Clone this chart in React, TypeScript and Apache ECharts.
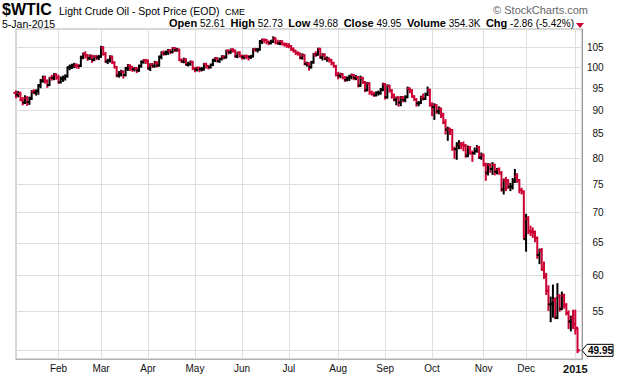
import React, { useEffect, useRef } from 'react';
import * as echarts from 'echarts';

const FONT = '"Liberation Sans", Arial, Helvetica, sans-serif';
const RED = '#cc0033';
const BLACK = '#000000';

// Trading calendar: first and last session, and exchange holidays
const START = '2014-01-06';
const END = '2015-01-05';
const HOLIDAYS = ['2014-01-20', '2014-02-17', '2014-04-18', '2014-05-26', '2014-07-04', '2014-09-01', '2014-11-27', '2014-12-25', '2015-01-01'];
const MONTHS = ['Jan', 'Feb', 'Mar', 'Apr', 'May', 'Jun', 'Jul', 'Aug', 'Sep', 'Oct', 'Nov', 'Dec'];

const PREV_CLOSE = 93.96; // close before the first bar

// Daily bars [open, high, low, close]
const jan14 = [
  [93.9, 94.3, 92.8, 93.43], [93.5, 94.2, 93.0, 93.67], [93.7, 94.0, 92.1, 92.33], [92.3, 92.8, 91.2, 91.66],
  [91.7, 93.2, 91.5, 92.72], [92.7, 93.0, 91.1, 91.80], [91.8, 92.9, 91.3, 92.59], [92.6, 94.4, 92.4, 94.17],
  [94.2, 94.6, 93.7, 93.96], [94.0, 94.5, 93.4, 94.37], [94.4, 95.8, 93.6, 95.57], [95.6, 97.0, 95.1, 96.73],
  [96.7, 97.8, 96.4, 97.32], [97.3, 97.8, 96.2, 96.64], [96.6, 96.9, 95.2, 95.72], [95.7, 97.5, 95.6, 97.41],
  [97.4, 98.0, 96.9, 97.36], [97.4, 98.4, 97.0, 98.23], [98.2, 98.3, 97.1, 97.49],
];
const feb14 = [
  [97.5, 98.0, 96.1, 96.43], [96.4, 97.6, 96.2, 97.19], [97.2, 97.8, 96.6, 97.38], [97.4, 98.1, 96.9, 97.84],
  [97.8, 100.0, 97.6, 99.88], [99.9, 100.5, 99.4, 100.06], [100.1, 100.7, 99.7, 100.37], [100.4, 100.9, 99.9, 100.40],
  [100.4, 100.8, 99.8, 100.35], [100.3, 100.6, 99.7, 100.30], [100.3, 102.7, 100.2, 102.43], [102.4, 103.5, 102.1, 103.31],
  [103.3, 103.8, 102.3, 102.92], [102.9, 103.1, 101.7, 102.20], [102.2, 103.0, 101.9, 102.82], [102.8, 102.9, 101.2, 101.83],
  [101.8, 102.8, 101.6, 102.59], [102.6, 102.9, 101.9, 102.40], [102.4, 102.9, 101.9, 102.59],
];
const mar14 = [
  [102.6, 105.2, 102.5, 104.92], [104.9, 105.1, 103.0, 103.33], [103.3, 103.6, 101.2, 101.45], [101.4, 101.9, 100.9, 101.56],
  [101.6, 102.8, 101.3, 102.58], [102.6, 102.7, 100.9, 101.12], [101.1, 101.3, 99.8, 100.03], [100.0, 100.1, 97.7, 97.99],
  [98.0, 98.9, 97.6, 98.20], [98.2, 99.2, 97.9, 98.89], [98.9, 99.0, 97.4, 98.08], [98.1, 99.9, 97.9, 99.70],
  [99.7, 100.6, 99.2, 100.37], [100.4, 100.5, 99.2, 99.90], [99.9, 100.2, 99.0, 99.46], [99.5, 99.9, 99.1, 99.60],
  [99.6, 99.9, 98.7, 99.19], [99.2, 100.5, 99.0, 100.26], [100.3, 101.5, 100.0, 101.28], [101.3, 101.8, 101.0, 101.67],
  [101.7, 101.9, 100.9, 101.58],
];
const apr14 = [
  [101.6, 101.7, 99.5, 99.74], [99.7, 100.8, 99.2, 100.62], [100.6, 100.9, 99.9, 100.29], [100.3, 101.4, 100.0, 101.14],
  [101.1, 101.3, 100.1, 100.44], [100.4, 102.7, 100.3, 102.56], [102.6, 103.8, 102.1, 103.60], [103.6, 104.0, 103.0, 103.40],
  [103.4, 104.0, 103.1, 103.74], [103.7, 104.4, 103.2, 104.05], [104.1, 104.4, 103.4, 103.75], [103.8, 104.9, 103.6, 104.76],
  [104.8, 104.9, 103.9, 104.30], [104.3, 104.7, 104.0, 104.38], [104.4, 104.4, 101.6, 101.75], [101.8, 102.0, 101.2, 101.44],
  [101.4, 102.2, 101.1, 101.94], [101.9, 102.0, 100.5, 100.60], [100.6, 101.2, 100.3, 100.84], [100.8, 101.5, 100.5, 101.28],
  [101.3, 101.4, 99.4, 99.74],
];
const may14 = [
  [99.7, 99.9, 98.9, 99.42], [99.4, 100.0, 99.1, 99.76], [99.8, 100.0, 98.9, 99.48], [99.5, 99.9, 99.1, 99.50],
  [99.5, 100.9, 99.3, 100.77], [100.8, 100.9, 99.8, 100.26], [100.3, 100.4, 99.6, 99.99], [100.0, 100.7, 99.8, 100.59],
  [100.6, 101.9, 100.4, 101.79], [101.8, 102.3, 101.4, 102.18], [102.2, 102.3, 101.3, 101.50], [101.5, 102.2, 101.2, 102.02],
  [102.0, 102.8, 101.8, 102.61], [102.6, 102.8, 102.1, 102.44], [102.4, 104.2, 102.3, 104.07], [104.1, 104.3, 103.3, 103.70],
  [103.7, 104.5, 103.5, 104.35], [104.4, 104.6, 103.8, 104.11], [104.1, 104.2, 102.5, 102.72], [102.7, 103.7, 102.4, 103.58],
  [103.6, 103.8, 102.6, 102.71],
];
const jun14 = [
  [102.7, 103.0, 102.0, 102.47], [102.5, 102.9, 102.1, 102.66], [102.7, 103.0, 102.1, 102.64], [102.6, 102.8, 101.8, 102.48],
  [102.5, 102.9, 102.2, 102.66], [102.7, 104.6, 102.6, 104.41], [104.4, 104.7, 104.0, 104.35], [104.4, 104.6, 103.8, 104.40],
  [104.4, 106.7, 104.3, 106.53], [106.5, 107.1, 106.0, 106.91], [106.9, 107.1, 106.2, 106.90], [106.9, 107.0, 105.9, 106.36],
  [106.4, 106.6, 105.7, 106.07], [106.1, 106.8, 105.9, 106.43], [106.4, 107.7, 106.3, 107.26], [107.3, 107.4, 105.9, 106.17],
  [106.2, 106.8, 105.8, 106.03], [106.0, 106.6, 105.7, 106.50], [106.5, 106.6, 105.6, 105.84], [105.8, 106.1, 105.3, 105.74],
  [105.7, 106.0, 105.0, 105.37],
];
const jul14 = [
  [105.4, 105.9, 104.9, 105.34], [105.3, 105.4, 104.2, 104.48], [104.5, 104.8, 103.8, 104.06], [104.1, 104.2, 103.2, 103.53],
  [103.5, 103.8, 103.0, 103.40], [103.4, 103.4, 102.1, 102.29], [102.3, 103.3, 102.0, 102.93], [102.9, 103.0, 100.6, 100.83],
  [100.8, 101.2, 100.3, 100.91], [100.9, 101.0, 99.3, 99.96], [100.0, 101.4, 99.8, 101.20], [101.2, 103.4, 101.0, 103.19],
  [103.2, 103.8, 102.7, 103.13], [103.1, 104.7, 103.0, 104.59], [104.6, 104.6, 102.2, 102.39], [102.4, 103.3, 101.8, 103.12],
  [103.1, 103.2, 101.9, 102.07], [102.1, 102.5, 101.5, 102.09], [102.1, 102.2, 101.3, 101.67], [101.7, 101.9, 100.6, 100.97],
  [101.0, 101.2, 100.0, 100.27], [100.3, 100.4, 97.9, 98.17],
];
const aug14 = [
  [98.2, 98.7, 97.2, 97.88], [97.9, 98.5, 97.5, 98.29], [98.3, 98.4, 97.2, 97.38], [97.4, 97.7, 96.6, 96.92],
  [96.9, 97.6, 96.7, 97.34], [97.3, 98.0, 96.8, 97.65], [97.7, 98.3, 97.2, 98.08], [98.1, 98.2, 97.0, 97.37],
  [97.4, 97.9, 97.0, 97.59], [97.6, 97.7, 95.3, 95.58], [95.6, 97.8, 95.4, 97.35], [97.4, 97.5, 96.1, 96.41],
  [96.4, 96.5, 94.2, 94.48], [94.5, 96.3, 94.4, 96.07], [96.1, 96.2, 93.6, 93.96], [94.0, 94.3, 93.4, 93.65],
  [93.6, 94.0, 93.1, 93.35], [93.4, 94.1, 93.2, 93.86], [93.9, 94.3, 93.4, 93.88], [93.9, 94.9, 93.6, 94.55],
  [94.6, 96.1, 94.4, 95.96],
];
const sep14 = [
  [95.9, 96.0, 92.5, 92.88], [92.9, 95.7, 92.7, 95.54], [95.5, 95.6, 94.1, 94.45], [94.4, 94.6, 92.7, 93.29],
  [93.3, 93.6, 92.1, 92.29], [92.3, 92.9, 91.2, 92.75], [92.8, 93.0, 90.9, 91.71], [91.7, 93.0, 91.0, 92.83],
  [92.8, 93.0, 91.9, 92.27], [92.3, 93.2, 91.9, 92.92], [92.9, 95.2, 92.8, 94.88], [94.9, 95.0, 93.9, 94.42],
  [94.4, 94.6, 92.9, 93.07], [93.1, 93.2, 92.2, 92.41], [92.4, 92.5, 90.9, 91.46], [91.5, 91.9, 91.0, 91.56],
  [91.6, 93.1, 91.5, 92.80], [92.8, 93.6, 92.3, 92.53], [92.5, 93.8, 92.4, 93.54], [93.5, 95.2, 93.3, 94.57],
  [94.6, 94.7, 90.9, 91.16],
];
const oct14 = [
  [91.2, 91.6, 88.8, 90.73], [90.7, 91.4, 88.0, 91.01], [91.0, 91.2, 89.3, 89.74], [89.7, 90.7, 89.2, 90.34],
  [90.3, 90.4, 88.4, 88.85], [88.9, 89.3, 87.1, 87.31], [87.3, 87.9, 84.9, 85.77], [85.8, 86.3, 83.6, 85.82],
  [85.8, 86.1, 84.8, 85.74], [85.7, 85.8, 81.6, 81.84], [81.8, 82.2, 80.0, 81.78], [81.8, 83.1, 79.8, 82.70],
  [82.7, 83.5, 81.9, 82.75], [82.8, 83.1, 81.9, 82.71], [82.7, 83.2, 81.5, 82.49], [82.5, 82.7, 80.2, 80.52],
  [80.5, 82.4, 80.3, 82.09], [82.1, 82.3, 80.8, 81.01], [81.0, 81.4, 79.4, 81.00], [81.0, 82.0, 80.8, 81.42],
  [81.4, 82.5, 81.2, 82.20], [82.2, 82.3, 80.0, 80.12], [80.1, 81.0, 79.8, 80.54],
];
const nov14 = [
  [80.6, 80.8, 78.5, 78.78], [78.8, 79.0, 75.8, 77.19], [77.2, 78.9, 76.8, 78.68], [78.7, 78.9, 77.3, 77.91],
  [77.9, 79.1, 76.9, 78.71], [78.7, 78.8, 76.8, 77.43], [77.4, 78.0, 77.0, 77.85], [77.8, 78.1, 76.9, 77.16],
  [77.2, 77.4, 73.8, 74.13], [74.1, 76.0, 73.3, 75.82], [75.8, 76.3, 73.9, 75.64], [75.6, 75.9, 74.3, 74.61],
  [74.6, 75.2, 73.9, 74.65], [74.6, 76.1, 74.2, 75.58], [75.6, 77.8, 75.4, 76.51], [76.5, 77.0, 75.4, 75.78],
  [75.8, 75.9, 73.5, 74.04], [74.0, 74.3, 73.3, 73.70], [73.7, 73.8, 65.7, 66.15],
];
const dec14 = [
  [65.6, 69.7, 63.7, 69.00], [69.0, 69.3, 66.5, 66.88], [66.9, 67.7, 66.2, 66.80], [66.8, 67.4, 65.9, 66.75],
  [66.7, 66.9, 65.2, 65.84], [65.8, 65.9, 62.6, 63.05], [63.1, 64.0, 61.8, 63.82], [63.8, 64.1, 60.8, 60.94],
  [60.9, 62.0, 59.6, 59.95], [60.0, 60.3, 57.3, 57.81], [57.8, 58.5, 55.1, 55.91], [55.9, 56.9, 53.6, 55.93],
  [56.0, 58.6, 54.2, 56.47], [56.5, 56.8, 54.0, 54.11], [54.1, 58.8, 54.0, 57.13], [57.1, 57.2, 55.0, 55.26],
  [55.3, 57.6, 55.2, 57.12], [57.1, 57.3, 55.4, 55.84], [55.8, 56.0, 54.5, 54.73], [54.7, 55.0, 52.7, 53.61],
  [53.6, 54.3, 52.4, 54.12], [54.1, 55.1, 52.7, 53.27],
];
const jan15 = [
  [53.3, 55.1, 52.0, 52.81], [52.61, 52.73, 49.68, 49.95],
];

const Y_TICKS = [50, 55, 60, 65, 70, 75, 80, 85, 90, 95, 100, 105];
const Y_MIN = 48.9;
const Y_MAX = 109.8;

const HEADER_STATS = [
  ['Open', '52.61'], ['High', '52.73'], ['Low', '49.68'], ['Close', '49.95'], ['Volume', '354.3K'], ['Chg', '-2.86 (-5.42%)'],
];

function tradingDays(): string[] {
  const out: string[] = [];
  const end = Date.parse(END + 'T00:00:00Z');
  for (let t = Date.parse(START + 'T00:00:00Z'); t <= end; t += 86400000) {
    const d = new Date(t);
    const wd = d.getUTCDay();
    const s = d.toISOString().slice(0, 10);
    if (wd === 0 || wd === 6 || HOLIDAYS.includes(s)) continue;
    out.push(s);
  }
  return out;
}

export default function App() {
  const ref = useRef<HTMLDivElement>(null);
  useEffect(() => {
    const bars = [...jan14, ...feb14, ...mar14, ...apr14, ...may14, ...jun14, ...jul14, ...aug14, ...sep14, ...oct14, ...nov14, ...dec14, ...jan15];
    const days = tradingDays();
    const cats = [...days, '', ''];
    const data = bars.map((b, i) => [i, b[0], b[1], b[2], b[3], i === 0 ? PREV_CLOSE : bars[i - 1][3]]);
    const closes = bars.map((b) => b[3]);
    const last = bars[bars.length - 1];

    const isMonthStart = (i: number) => {
      if (i <= 0 || i >= days.length) return false;
      return days[i].slice(0, 7) !== days[i - 1].slice(0, 7);
    };

    const chart = echarts.init(ref.current!, null, { renderer: 'svg' });
    const option: any = {
      animation: false,
      textStyle: { fontFamily: FONT },
      grid: { left: 16, right: 38, top: 29, bottom: 17, show: true, borderColor: '#b0b0b0', borderWidth: 1, backgroundColor: 'transparent' },
      xAxis: {
        type: 'category',
        data: cats,
        boundaryGap: false,
        axisLine: { show: true, lineStyle: { color: '#b0b0b0' } },
        axisTick: { show: false },
        axisLabel: {
          interval: (i: number) => isMonthStart(i),
          formatter: (v: string) => {
            if (!v) return '';
            const m = Number(v.slice(5, 7));
            return m === 1 ? '{b|' + v.slice(0, 4) + '}' : MONTHS[m - 1];
          },
          fontSize: 10,
          color: '#111',
          margin: 4,
          fontFamily: FONT,
          rich: { b: { fontWeight: 'bold', fontSize: 11, fontFamily: FONT, color: '#111' } },
        },
        splitLine: { show: true, interval: (i: number) => isMonthStart(i), lineStyle: { color: '#dedede', width: 1 } },
      },
      yAxis: {
        type: 'log',
        logBase: 10,
        min: Y_MIN,
        max: Y_MAX,
        position: 'right',
        axisLine: { show: true, lineStyle: { color: '#999999' } },
        axisTick: { show: false },
        axisLabel: { show: false },
        splitLine: { show: false },
      },
      series: [
        {
          type: 'line',
          data: closes,
          showSymbol: false,
          silent: true,
          lineStyle: { opacity: 0 },
          z: 1,
          markLine: {
            silent: true,
            symbol: ['none', 'none'],
            z: 1,
            lineStyle: { color: '#dedede', width: 1, type: 'solid' },
            label: { position: 'end', color: '#111', fontSize: 10, fontFamily: FONT },
            data: Y_TICKS.map((v) => ({
              yAxis: v,
              label: { formatter: v === 50 ? '' : String(v), distance: v >= 100 ? 5 : 10.5 },
            })),
          },
        },
        {
          type: 'custom',
          z: 5,
          data,
          encode: { x: 0, y: [1, 2, 3, 4] },
          renderItem: (params: any, api: any) => {
            const i = api.value(0);
            const o = api.value(1);
            const h = api.value(2);
            const l = api.value(3);
            const c = api.value(4);
            const pc = api.value(5);
            const po = api.coord([i, o]);
            const ph = api.coord([i, h]);
            const pl = api.coord([i, l]);
            const pcl = api.coord([i, c]);
            const x = po[0];
            const color = c < pc ? RED : BLACK;
            const st = { stroke: color, lineWidth: 2 };
            return {
              type: 'group',
              children: [
                { type: 'line', shape: { x1: x, y1: ph[1] - 0.6, x2: x, y2: pl[1] + 0.6 }, style: st },
                { type: 'line', shape: { x1: x - 2.7, y1: po[1], x2: x, y2: po[1] }, style: st },
                { type: 'line', shape: { x1: x, y1: pcl[1], x2: x + 2.7, y2: pcl[1] }, style: st },
              ],
            };
          },
        },
      ],
      graphic: [
        { type: 'text', id: 'sym', x: 2, y: 9, style: { text: '$WTIC', font: 'bold 16px ' + FONT, fill: '#000', verticalAlign: 'middle' } },
        { type: 'text', id: 'name', x: 59, y: 11.1, style: { text: 'Light Crude Oil - Spot Price (EOD)', font: '10.5px ' + FONT, fill: '#000', verticalAlign: 'middle' } },
        { type: 'text', id: 'exch', x: 225, y: 11.6, style: { text: 'CME', font: '9px ' + FONT, fill: '#000', verticalAlign: 'middle' } },
        { type: 'text', id: 'copy', x: 588, y: 10.3, style: { text: '© StockCharts.com', font: '11px ' + FONT, fill: '#666', align: 'right', verticalAlign: 'middle' } },
        { type: 'text', id: 'date', x: 2, y: 23.6, style: { text: '5-Jan-2015', font: '10.5px ' + FONT, fill: '#000', verticalAlign: 'middle' } },
        {
          type: 'text', id: 'stats', x: 574, y: 23.4,
          style: {
            text: HEADER_STATS.map(([k, v]) => '{k|' + k + '} {v|' + v + '}').join('  '),
            align: 'right', verticalAlign: 'middle', fill: '#000', font: '10px ' + FONT,
            rich: { k: { fontWeight: 'bold', fontSize: 11, fontFamily: FONT }, v: { fontSize: 10, fontFamily: FONT } },
          },
        },
        { type: 'polygon', id: 'tri', shape: { points: [[576, 23], [584, 23], [580, 28]] }, style: { fill: RED } },
      ],
    };
    chart.setOption(option);

    const yl = chart.convertToPixel({ yAxisIndex: 0 }, last[3]) as number;
    const xr = 582;
    chart.setOption({
      graphic: [
        {
          type: 'polygon', id: 'lastBox', z: 20,
          shape: { points: [[xr, yl], [xr + 5, yl - 6], [xr + 31, yl - 6], [xr + 31, yl + 6], [xr + 5, yl + 6]] },
          style: { fill: '#fff', stroke: '#000', lineWidth: 1 },
        },
        { type: 'text', id: 'lastTxt', z: 21, x: xr + 18.5, y: yl, style: { text: last[3].toFixed(2), font: 'bold 10px ' + FONT, fill: '#000', align: 'center', verticalAlign: 'middle' } },
      ],
    });
    return () => chart.dispose();
  }, []);
  return <div ref={ref} style={{ position: 'absolute', left: 0, top: 0, width: 620, height: 376 }} />;
}
